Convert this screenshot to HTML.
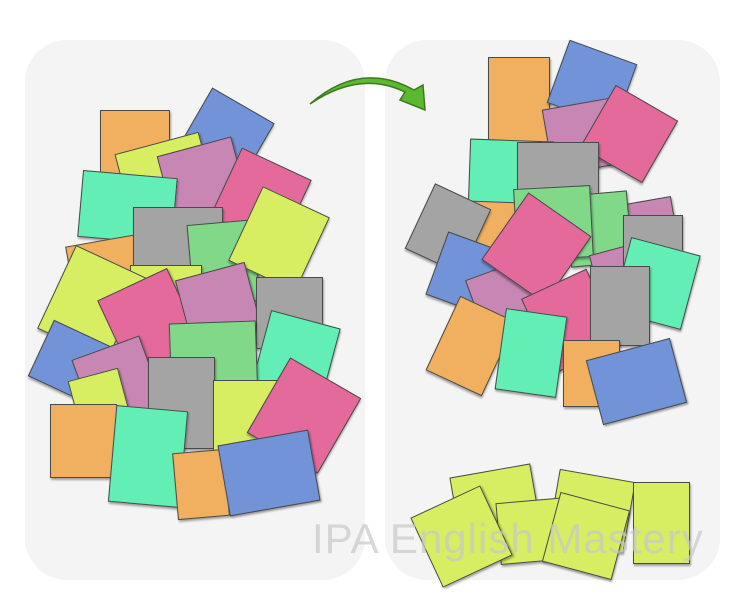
<!DOCTYPE html>
<html><head><meta charset="utf-8"><style>
body{margin:0;width:750px;height:600px;background:#fff;position:relative;overflow:hidden;font-family:"Liberation Sans",sans-serif}
.p{position:absolute;background:#f4f4f4;border-radius:42px}
.c{position:absolute;border:1.3px solid #4a4a4a;box-shadow:1px 2px 2px rgba(0,0,0,.35)}
.o{background:#f0b060}.b{background:#7293d8}.y{background:#d8ee62}.u{background:#c886b4}.k{background:#e46a9c}.t{background:#62eeb4}.g{background:#a4a4a4}.n{background:#80d888}
.w{position:absolute;left:312px;top:515px;font-size:42px;color:rgba(200,200,200,.7);letter-spacing:1px}
</style></head><body>
<div class="p" style="left:25px;top:40px;width:340px;height:540px"></div>
<div class="p" style="left:385px;top:40px;width:335px;height:540px"></div>
<div id="L"></div>
<svg style="position:absolute;left:0;top:0" width="750" height="600">
<path d="M310,104 Q360,70 405,92 L400,100 L425,110 L423,85 L414,90 Q360,60 310,104 Z" fill="#5cb830" stroke="#3c7a20" stroke-width="1.5"/>
</svg>
<div class="w">IPA English Mastery</div>
<script>
const C=[
['o',134,165,68,110,0],['b',222,140,70,80,30],['y',163,172,85,60,-15],['u',203,185,75,80,-15],['k',258,200,75,80,25],
['t',126,206,93,65,5],['o',105,270,70,60,-10],['g',177,248,88,82,0],['n',222,262,65,80,-5],['y',278,238,72,80,25],
['y',165,300,70,70,0],['y',90,302,75,90,25],['k',150,325,75,90,-25],['u',218,305,70,70,-15],['g',288,312,65,70,0],
['b',68,360,60,60,25],['u',120,390,70,90,-20],['t',295,355,70,75,15],['n',212,357,85,70,-2],['g',180,402,65,90,0],
['y',103,415,50,85,-15],['y',245,422,65,85,0],['k',303,414,80,85,30],['o',82,440,65,72,0],['t',147,455,70,95,5],
['o',200,483,50,65,-5],['b',268,472,90,70,-10],
['o',518,103,60,93,0],['b',591,82,70,65,20],['u',582,135,70,65,-10],['k',628,133,70,70,30],['t',510,172,82,65,2],
['g',557,177,80,70,0],['u',650,232,50,65,-10],['o',508,237,80,70,2],['g',447,228,60,70,25],['n',598,228,60,70,-5],
['n',552,222,75,70,-3],['b',465,272,60,65,20],['u',512,300,75,70,-20],['u',620,285,45,75,-15],['g',652,245,58,60,0],
['k',535,247,75,80,35],['t',655,282,70,75,15],['k',570,320,70,80,-25],['g',619,305,58,78,0],['o',470,345,60,80,25],
['t',530,352,60,80,8],['o',590,372,55,65,0],['b',635,380,85,65,-15],
['y',495,505,80,70,-10],['y',590,510,75,70,10],['y',533,530,70,60,-5],['y',585,535,70,70,15],['y',660,522,55,80,0],['y',460,535,75,75,-25]
];
let h='';for(const[c,x,y,w,hh,r]of C)h+=`<div class="c ${c}" style="left:${x-w/2}px;top:${y-hh/2}px;width:${w}px;height:${hh}px;transform:rotate(${r}deg)"></div>`;
document.getElementById('L').innerHTML=h;
</script>
</body></html>
